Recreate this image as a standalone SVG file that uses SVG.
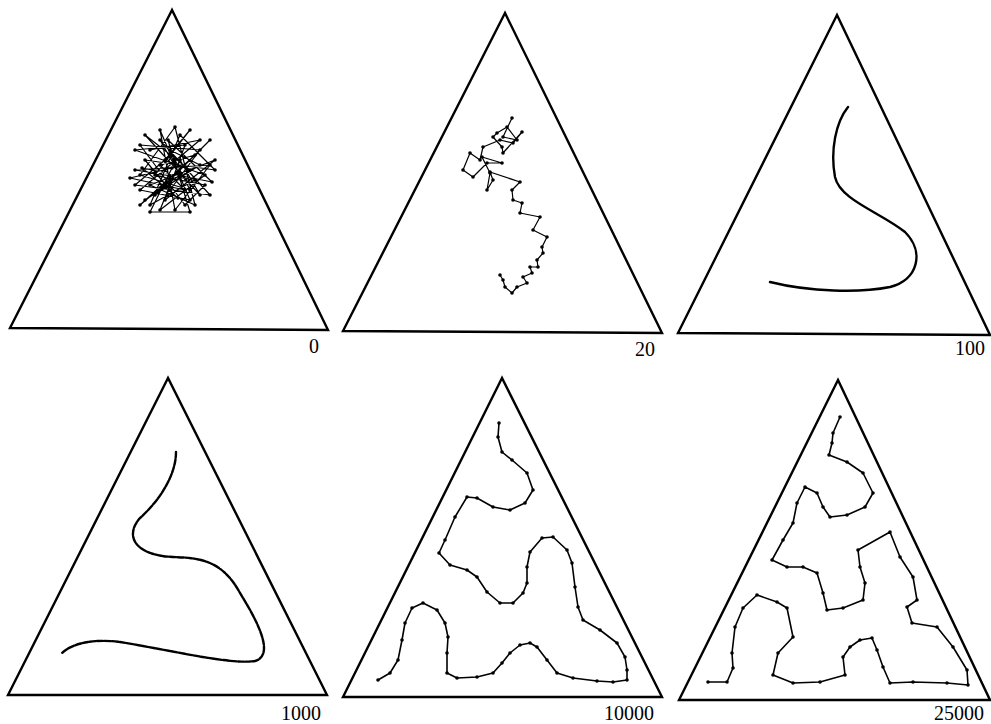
<svg xmlns="http://www.w3.org/2000/svg" width="991" height="724" viewBox="0 0 991 724">
<defs>
<style>
.tri{fill:none;stroke:#000;stroke-width:2.4;stroke-linejoin:miter}
.walk{fill:none;stroke:#000;stroke-width:1.2;stroke-linejoin:round;stroke-linecap:round}
.path{fill:none;stroke:#000;stroke-width:1.6;stroke-linejoin:round;stroke-linecap:round}
.smooth{fill:none;stroke:#000;stroke-width:2.4;stroke-linecap:round}
.dotted{marker-start:url(#dot);marker-mid:url(#dot);marker-end:url(#dot)}
.lbl{font-family:"Liberation Serif","Times New Roman",serif;font-size:20px;fill:#000;text-anchor:end}
</style>
<marker id="dot" viewBox="-2 -2 4 4" markerWidth="4" markerHeight="4" markerUnits="userSpaceOnUse" refX="0" refY="0"><circle r="1.8" fill="#000"/></marker>
</defs>
<rect width="991" height="724" fill="#fff"/>

<g id="panel-0">
<polygon class="tri" points="172,10 10,328 328,330"/>
<polyline class="walk dotted" points="150,150 200,140 140,190 190,200 160,130 175,210 210,165 135,170 195,180 150,205 180,135 215,170 145,160 170,190 200,150 140,145 185,205 205,185 155,175 190,130 165,160 135,185 210,195 160,140 180,175 145,200 200,165 170,150 190,190 140,175 175,127 195,205 150,185 215,160 165,200 185,145 135,150 205,175 160,210 180,160 200,195 145,135 190,170 155,195 210,140 170,180 140,205 195,155 160,165 185,190 130,178 172,168 150,212 190,212 168,140 212,182 142,168 178,198"/>
<text class="lbl" x="319" y="353">0</text>
</g>

<g id="panel-20">
<polygon class="tri" points="505,13 343,331 662,333"/>
<polyline class="walk dotted" points="512,118 503,137 517,140 507,127 497,133 493,137 502,147 503,153 522,132 513,143 500,140 483,147 480,160 470,153 463,170 473,177 487,163 502,163 482,157 490,173 487,190 493,180 490,172 520,182 512,190 513,200 522,203 520,213 540,217 533,230 547,237 542,247 543,253 537,260 538,267 530,267 532,273 523,277 527,283 517,287 512,293 505,287 503,280 500,275"/>
<text class="lbl" x="655" y="356">20</text>
</g>

<g id="panel-100">
<polygon class="tri" points="837,15 678,333 990,335"/>
<path class="smooth" d="M848,107 C836,122 830,150 835,177 C840,200 880,212 905,232 C925,252 918,280 890,287 C860,293 810,292 770,282"/>
<text class="lbl" x="985" y="355">100</text>
</g>

<g id="panel-1000">
<polygon class="tri" points="168,378 8,695 327,695"/>
<path class="smooth" stroke-dasharray="6 1.5" d="M176,452 C176,475 160,500 140,518 C125,535 133,555 173,557 C200,558 222,560 240,593 C258,622 275,655 255,661 C230,665 170,650 120,642 C90,638 70,645 62,653"/>
<text class="lbl" x="321" y="720">1000</text>
</g>

<g id="panel-10000">
<polygon class="tri" points="502,378 343,697 662,697"/>
<polyline class="path dotted" points="499,423 498,437 502,452 512,460 527,473 533,490 525,503 510,510 493,507 477,498 467,497 455,517 445,540 439,553 450,565 467,570 477,577 487,592 500,603 513,603 523,593 527,583 527,567 530,552 542,538 553,537 567,550 572,563 575,587 578,607 583,620 600,630 617,643 625,657 627,670 627,680 613,682 597,681 573,678 557,673 547,660 537,647 530,643 520,645 510,653 502,663 493,673 477,677 457,678 447,673 447,653 448,637 445,623 437,610 423,603 412,608 405,623 402,640 398,660 390,673 378,680"/>
<text class="lbl" x="654" y="720">10000</text>
</g>

<g id="panel-25000">
<polygon class="tri" points="838,380 679,700 990,700"/>
<polyline class="path dotted" points="840,417 833,433 832,443 829,455 847,462 863,473 873,493 865,507 847,515 830,517 823,507 817,493 805,487 797,503 793,523 783,540 772,560 787,567 803,567 817,573 823,593 827,610 843,608 863,600 865,583 860,567 858,550 890,532 900,557 913,577 917,600 907,607 912,623 937,627 953,647 967,670 968,685 947,683 913,682 890,683 883,667 877,650 872,638 860,640 850,647 843,657 845,675 820,682 793,683 773,675 778,653 793,637 787,608 777,602 757,595 743,608 735,627 732,653 733,668 727,682 708,682"/>
<text class="lbl" x="984" y="720">25000</text>
</g>
</svg>
